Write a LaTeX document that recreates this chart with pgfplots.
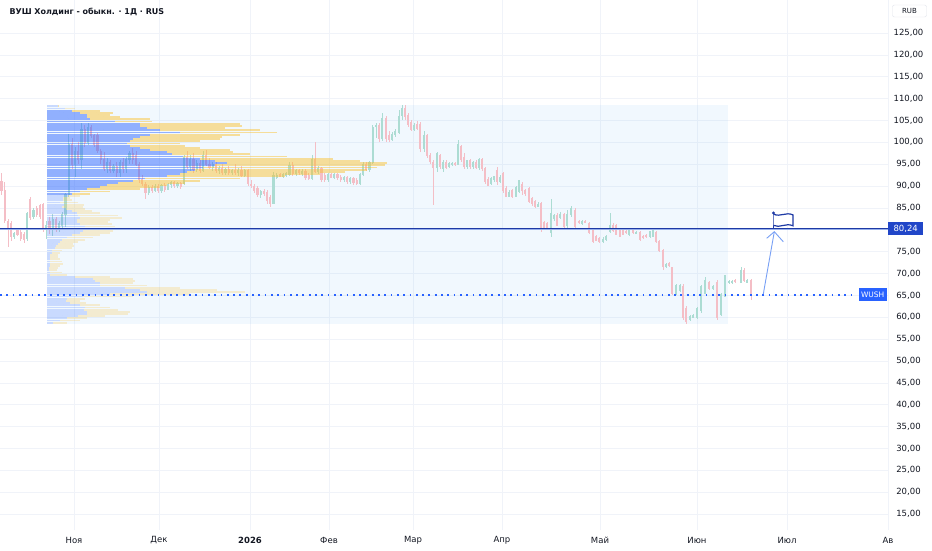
\documentclass[border=0pt]{standalone}
\usepackage{fontspec}
\setmainfont{DejaVu Sans}
\usepackage{pgfplots}
\usepackage{pgfplotstable}
\pgfplotsset{compat=1.18}
\definecolor{txt}{RGB}{19,23,34}
\definecolor{gridc}{RGB}{240,243,249}
\definecolor{redc}{RGB}{244,190,198}
\definecolor{grnc}{RGB}{172,220,211}
\definecolor{pblue}{RGB}{41,98,255}
\definecolor{pyel}{RGB}{251,192,45}
\definecolor{boxbg}{RGB}{33,150,243}
\definecolor{navy}{RGB}{30,58,165}
\definecolor{navybox}{RGB}{33,70,200}
\definecolor{arrowc}{RGB}{120,160,245}

\pgfplotstableread{
x o h l c
14.3 78.5 79.5 78 79.2
27.1 78 84 77.5 83.8
33.5 83 85 82.5 84.5
46.3 80 82 78 81
52.7 80 83.5 78.5 82.5
59.1 80.5 82 79.5 81.5
62.3 81 84 80 83.5
65.5 83.5 88.5 80.7 88
68.7 88 102 87.5 99.5
75.1 95 99 92 98
81.5 96 104.4 94 103
87.9 100 104.5 99.5 103.5
107.1 94 96.5 93 95.5
113.5 93.5 95 93 94.5
119.9 93 96 92 95.5
126.3 94 96.6 93 96
129.5 96 98 95 97.5
148.7 88.5 90.2 88 89.8
155.1 89 90.5 88.7 90
161.5 89 90.5 88.5 90.2
167.9 89.2 90.8 89 90.4
171.1 90.4 91.2 89.5 90.9
177.5 90 91 89.5 90.6
183.9 90.5 97 90.3 96.5
190.3 94.5 97 93.5 96
196.7 93.8 96 93.2 95.2
203.1 93.5 98 93.2 97
212.7 94.2 95.5 93.5 95
219.1 93.5 94.5 92.8 94
225.5 93 94.2 92.6 93.8
231.9 93 94 92.5 93.6
238.3 93 94.2 92.3 93.6
244.7 92.4 94 92 93.5
260.7 88 89 87.3 88.7
273.5 86 93.2 85.8 92.5
276.7 92 93 91.7 92.5
283.1 92.2 93 91.8 92.6
286.3 92.4 93.2 92 92.9
289.5 92.6 95.5 92.2 94.8
295.9 92.8 94 92.2 93.6
302.3 92.8 93.8 92.3 93.4
311.9 91.8 97 91.5 96
318.3 93.4 94.5 92.8 94
327.9 91.4 93 91 92.6
334.3 92 93 91.6 92.7
343.9 91.4 92.4 91 92
350.3 91 92 90.5 91.7
359.9 90.6 93 90.3 92.6
363.1 92.6 95.5 92.2 95
369.5 93.8 95.8 93.2 95.4
372.7 95.4 104 95 103.5
375.9 103.5 104.5 101 104
382 100.8 106.7 100.3 105.5
392 100.6 102.3 100.2 101.8
395 101.8 103 101.2 102.4
399 102.2 107.4 102 106
402 106 108.5 105 107.8
414 103 104.5 102.5 104
424 98.5 102.5 97.8 101.5
437 94.1 97.8 93.2 97.5
443 94 96 93.3 95.5
449 94.5 95.5 94.2 95.2
452 95 95.5 94.6 95.3
458 95 100.5 94.8 99.5
467 94.5 96 94 95.8
473 94.4 95.8 94 95.5
479 94.3 96.4 93.7 96.2
491 90.6 92 90.3 91.8
494 91.5 92.4 91 92.2
500 91 92.5 90.6 92
509 87.6 89 87.4 88.6
516 87.6 90 87.4 89.8
519 88.8 91.4 88.5 91.2
538 85.4 86.3 85.2 85.8
551 79.3 87 78.3 83.8
554 82.5 83.6 82 83.2
560 82.7 84 82.4 83.6
567 81 84.5 80 83.5
571 83.5 85.4 83 84.8
582 81.5 82.2 81.2 81.9
603 77.2 78.4 77 77.8
606 77.8 78.9 77.5 78.6
610 79.5 83.8 79.2 81
629 78.9 80.4 78.6 80
636 79.2 79.8 79 79.5
650 78.4 79.8 78.2 79.6
653 78.5 80.2 78.3 80
666 71.5 72.5 71.2 72.2
676 65.5 67.6 65.2 67.4
680 66 67.6 65.8 67.2
690 59.5 60.6 59.2 60.3
693 60 60.8 59.8 60.5
697 59.8 62.4 59.5 62
701 61.5 67.4 61 67
705 65.5 69.2 65.3 68.5
713 66.5 67.3 66.2 67
721 60.5 65.5 60.3 65.3
725 64.8 69.7 64.6 69.5
729 67.8 68.5 67.5 68.2
732 67.9 68.6 67.6 68.3
741 68 71.5 67.8 70.8
747 68 68.8 67.8 68.5
}\up

\pgfplotstableread{
x o h l c
1.5 91 93 88 89
4.7 89 91 81.5 82
7.9 82 82.5 76 80.5
11.1 81.5 82 77.5 78.5
17.5 80 80.5 78.5 79
20.7 79.5 80 77.5 78
23.9 79 79.5 77 77.8
30.3 87 87.5 82.3 82.8
36.7 85 85.5 83 83.5
39.9 85.5 86 82.5 83
43.1 85.8 86.2 79.5 80
49.5 82 83 79 80
55.9 82.5 83 79.5 80.5
71.9 99.5 101 94 95
78.3 98 100 95 96
84.7 103 104 99 100
91.1 103.5 104 101 101.5
94.3 101.5 102 99 99.5
97.5 101.5 102.2 97.5 98
100.7 98 98.5 95 96
103.9 96 97.8 93.5 94
110.3 95.5 96 93 93.5
116.7 94.5 95.5 92 93
123.1 95.5 96.5 93 94
132.7 97.5 98.7 95 96
135.9 97 98 94.5 95
139.1 95 95.5 90.7 91.5
142.3 91.5 92.5 90 90.5
145.5 90.5 91 87 88.5
151.9 89.8 90.3 88.5 89
158.3 90 90.5 88.5 89
164.7 90.2 90.6 88.6 89.2
174.3 90.9 91.2 89.5 90
180.7 90.6 91 89.4 89.8
187.1 96.5 98 94 94.5
193.5 96 97.5 93 93.8
199.9 95.2 96 93 93.5
206.3 97 98.2 94.5 95
209.5 95 96.5 93.8 94.2
215.9 95 95.5 93 93.5
222.3 94 95 92.5 93
228.7 93.8 94.5 92.6 93
235.1 93.6 95 92.5 93
241.5 93.6 94.6 92 92.4
247.9 93.5 94 90 90.5
251.1 90.5 91.5 89.5 90
254.3 90 90.5 88.5 89
257.5 89.5 90 87.5 88
263.9 88.7 89.3 87.8 88.2
267.1 88.5 89 86 86.7
270.3 87.5 88 85.2 86
279.9 92.6 93 92 92.2
292.7 94.8 95.5 92.3 92.8
299.1 93.6 94 92.5 93
305.5 93.4 93.8 91.5 92
308.7 92.4 93 91.4 91.8
315.1 96 100 93 93.4
321.5 94 94.3 91 91.5
324.7 92.5 93 91 91.4
331.1 92.6 93 91.8 92
337.5 92.7 93 91.5 91.9
340.7 92 92.5 91 91.4
347.1 92 92.3 90.5 91
353.5 91.7 92 90.3 90.8
356.7 91.4 91.8 90.2 90.6
366.3 95 95.6 93.4 93.8
379 104 104.5 100 100.8
386 105.5 106 100 100.8
389 101.5 102.5 100 100.6
405 107.8 108.6 105.2 105.8
408 106.2 106.8 103.5 104
411 104.5 105 102.5 103
417 104 104.8 102.8 103.2
420 104.2 104.6 97.8 98.5
427 101.5 102 96.5 97
430 97 97.5 95 95.5
433 95.5 96 85.7 94.1
440 97 97.4 94 94.5
446 95.5 96 93.8 94.2
455 95.3 95.6 94.7 95
461 99 99.5 95.5 96
464 96.5 97.6 94 94.5
470 95.8 96.2 94 94.4
476 95.5 95.9 93.9 94.3
482 96.2 96.5 93.5 94
485 94 94.4 90.5 91
488 91.5 92 90 90.2
497 93.6 94.3 90.3 91
503 92.8 93.2 88.5 89
506 89.5 90 87.4 87.6
512 89 89.4 87.2 87.6
522 90.5 91 88 89
525 89 89.4 87.8 88.2
529 89.5 89.8 86.2 86.5
532 87.3 87.6 85.5 86
535 86.5 86.8 85 85.4
541 86 86.3 79.5 80
544 81.6 82 80.2 80.4
547 81.5 81.8 80.3 80.6
557 83.4 83.8 80.8 81
564 83.5 83.8 80.5 80.8
575 84.5 85 80.5 80.8
579 82 82.3 81.4 81.6
585 82 82.3 81.5 81.7
589 81.5 81.8 79 79.3
593 80 80.3 77 77.2
596 78.5 78.8 77.4 77.6
599 78.1 78.4 77 77.2
613 81 81.5 79.5 79.8
616 81 81.3 78.8 79
620 80 80.3 78.3 78.5
623 79.8 80.1 78.8 79
626 79.6 79.9 79.1 79.3
633 79.8 80.1 79.1 79.3
640 79.5 79.8 77.5 77.7
643 78.6 78.9 78 78.2
646 78.8 79 78.2 78.4
656 79.5 79.8 77 77.2
659 77.4 77.6 75 75.3
663 75.2 75.5 70.8 71.5
669 72.3 72.6 71.5 71.8
672 71.3 71.6 65 65.5
683 67 67.5 59.4 59.8
686 62 62.5 58.5 59
709 68 68.3 66.2 66.5
717 68 68.5 59.4 60
735 68.4 68.8 67.9 68.1
744 70.8 71.2 68 68.3
751 68.5 68.8 64 65.2
}\dn

% volume profile rows: price, end of blue part, end of yellow part (x in px)
\pgfplotstableread{
p b e
58.75 53 67
59.25 60 80
59.75 67 87
60.25 78 105
60.75 87 128
61.25 87 130
61.75 84 118
62.25 85 110
62.75 80 100
63.25 70 86
63.75 66 80
64.25 67 85
64.75 83 133
65.25 110 190
65.75 147 245
66.25 140 217
66.75 125 180
67.25 100 147
67.75 100 133
68.25 95 135
68.75 93 133
69.25 75 110
69.75 50 67
70.25 50 62
70.75 49 57
71.25 49 58
71.75 50 60
72.25 50 63
72.75 50 62
73.25 50 60
73.75 50 58
74.25 50 58
74.75 52 60
75.25 52 62
75.75 55 72
76.25 56 74
76.75 58 73
77.25 60 78
77.75 62 85
78.25 67 93
78.75 72 100
79.25 80 110
79.75 83 113
80.25 87 120
80.75 85 115
81.25 80 112
81.75 77 108
82.25 77 110
82.75 80 122
83.25 78 118
83.75 77 100
84.25 72 92
84.75 66 85
85.25 62 83
85.75 64 84
86.25 60 78
86.75 63 72
87.25 63 70
87.75 68 80
107.75 65 75
108.25 58 59
}\plight

\pgfplotstableread{
p b e
88.25 72 90
88.75 80 110
89.25 87 140
89.75 100 160
90.25 107 167
90.75 118 185
91.25 133 200
91.75 145 240
92.25 167 285
92.75 180 320
93.25 187 345
93.75 195 367
94.25 203 377
94.75 215 385
95.25 227 387
95.75 215 360
96.25 200 333
96.75 183 287
97.25 172 250
97.75 167 233
98.25 150 230
98.75 140 200
99.25 130 185
99.75 127 180
100.25 130 200
100.75 133 220
101.25 140 222
101.75 150 240
102.25 180 277
102.75 160 260
103.25 147 225
103.75 140 242
104.25 140 240
104.75 115 152
105.25 90 150
105.75 87 120
106.25 87 110
106.75 80 113
107.25 72 100
}\pdark

\begin{document}
\begin{tikzpicture}
\path[use as bounding box, fill=white] (0,0) rectangle (932pt,550pt);
\begin{axis}[
  at={(0pt,20pt)}, anchor=south west,
  width=888pt, height=530pt, scale only axis,
  xmin=0, xmax=888, ymin=11.35, ymax=132.55,
  clip=false,
  axis line style={draw=none},
  major tick length=0pt,
  xtick={74,159,250,329,413,502,600,697,787,888},
  xticklabels={Ноя,Дек,\textbf{2026},Фев,Мар,Апр,Май,Июн,Июл,Ав},
  ytick={15,20,25,30,35,40,45,50,55,60,65,70,75,85,90,95,100,105,110,115,120,125},
  extra y ticks={80}, extra y tick labels={},
  extra y tick style={grid=major},
  yticklabel pos=right,
  xmajorgrids, ymajorgrids,
  major grid style={draw=gridc, line width=0.6pt},
  tick label style={font=\fontsize{8.5}{10}\selectfont, text=txt},
  xticklabel style={anchor=center, yshift=-10pt},
  yticklabel style={anchor=center, xshift=20.5pt},
  /pgf/number format/.cd, fixed, fixed zerofill, precision=2, use comma, 1000 sep={}, assume math mode=true,
]
% profile background
\addplot[draw=none, fill=boxbg, fill opacity=0.06, forget plot] coordinates {(47,58.5) (728,58.5) (728,108.5) (47,108.5)} -- cycle;

% candles: wicks and bodies
\addplot[draw=none, mark=none, forget plot, error bars/.cd, y dir=both, y explicit, error mark=none,
  error bar style={draw=grnc, line width=0.8pt}]
  table[x=x, y expr={(\thisrow{h}+\thisrow{l})/2}, y error expr={(\thisrow{h}-\thisrow{l})/2}] {\up};
\addplot[draw=none, mark=none, forget plot, error bars/.cd, y dir=both, y explicit, error mark=none,
  error bar style={draw=grnc, line width=2.2pt}]
  table[x=x, y expr={(\thisrow{o}+\thisrow{c})/2}, y error expr={abs(\thisrow{c}-\thisrow{o})/2+0.08}] {\up};
\addplot[draw=none, mark=none, forget plot, error bars/.cd, y dir=both, y explicit, error mark=none,
  error bar style={draw=redc, line width=0.8pt}]
  table[x=x, y expr={(\thisrow{h}+\thisrow{l})/2}, y error expr={(\thisrow{h}-\thisrow{l})/2}] {\dn};
\addplot[draw=none, mark=none, forget plot, error bars/.cd, y dir=both, y explicit, error mark=none,
  error bar style={draw=redc, line width=2.2pt}]
  table[x=x, y expr={(\thisrow{o}+\thisrow{c})/2}, y error expr={abs(\thisrow{c}-\thisrow{o})/2+0.08}] {\dn};

% volume profile
\addplot[draw=none, mark=none, forget plot, error bars/.cd, x dir=both, x explicit, error mark=none,
  error bar style={draw=pblue, draw opacity=0.2, line width=1.8pt}]
  table[y=p, x expr={(47+\thisrow{b})/2}, x error expr={(\thisrow{b}-47)/2}] {\plight};
\addplot[draw=none, mark=none, forget plot, error bars/.cd, x dir=both, x explicit, error mark=none,
  error bar style={draw=pyel, draw opacity=0.22, line width=1.8pt}]
  table[y=p, x expr={(\thisrow{b}+\thisrow{e})/2}, x error expr={(\thisrow{e}-\thisrow{b})/2}] {\plight};
\addplot[draw=none, mark=none, forget plot, error bars/.cd, x dir=both, x explicit, error mark=none,
  error bar style={draw=pblue, draw opacity=0.48, line width=1.8pt}]
  table[y=p, x expr={(47+\thisrow{b})/2}, x error expr={(\thisrow{b}-47)/2}] {\pdark};
\addplot[draw=none, mark=none, forget plot, error bars/.cd, x dir=both, x explicit, error mark=none,
  error bar style={draw=pyel, draw opacity=0.48, line width=1.8pt}]
  table[y=p, x expr={(\thisrow{b}+\thisrow{e})/2}, x error expr={(\thisrow{e}-\thisrow{b})/2}] {\pdark};

% horizontal level 80.24
\addplot[draw={rgb,255:red,150;green,175;blue,235}, line width=0.9pt, forget plot] coordinates {(0,79.98) (888,79.98)};
\addplot[draw=navy, line width=1.4pt, forget plot] coordinates {(0,80.24) (888,80.24)};
% last price dotted line
\addplot[draw=pblue, line width=1.8pt, dash pattern=on 1.8pt off 4.5pt, forget plot] coordinates {(0,65.15) (852,65.15)};

% arrow
\addplot[draw=arrowc, line width=0.9pt, forget plot] coordinates {(763.3,65.3) (774.3,79.56)};
\addplot[draw=arrowc, line width=0.9pt, forget plot] coordinates {(766.7,78.06) (774.3,79.56) (783.3,77.27)};
% flag
\draw[navy, line width=1.2pt] (axis cs:773.5,80.3) -- (axis cs:773.5,83.84);
\fill[navy] (axis cs:773.5,83.84) circle (1.6pt);
\draw[navy, line width=1.2pt, fill=white] (axis cs:773.5,83.6) .. controls (axis cs:780,82.8) and (axis cs:786,84.2) .. (axis cs:793,83.4)
  -- (axis cs:793,80.9) .. controls (axis cs:786,81.7) and (axis cs:780,80.3) .. (axis cs:773.5,81.0);

% price labels
\node[fill=navybox, text=white, anchor=west, minimum width=35pt, minimum height=13pt, inner sep=1pt,
  font=\fontsize{8.5}{10}\selectfont] at (axis cs:888,80.24) {80,24};
\node[fill=pblue, text=white, anchor=east, minimum height=13pt, inner xsep=2.5pt, inner ysep=1pt,
  font=\fontsize{7.5}{9}\selectfont] at (axis cs:887,65.15) {WUSH};
\end{axis}
\node[anchor=west, text=txt, font=\bfseries\fontsize{8}{10}\selectfont] at (6pt,538pt) {ВУШ Холдинг - обыкн. · 1Д · RUS};
\node[draw={rgb,255:red,224;green,227;blue,235}, rounded corners=2pt, minimum width=34pt, minimum height=12pt, inner sep=1pt,
  text=txt, font=\fontsize{7}{8}\selectfont] at (909.5pt,539pt) {RUB};
\end{tikzpicture}
\end{document}
